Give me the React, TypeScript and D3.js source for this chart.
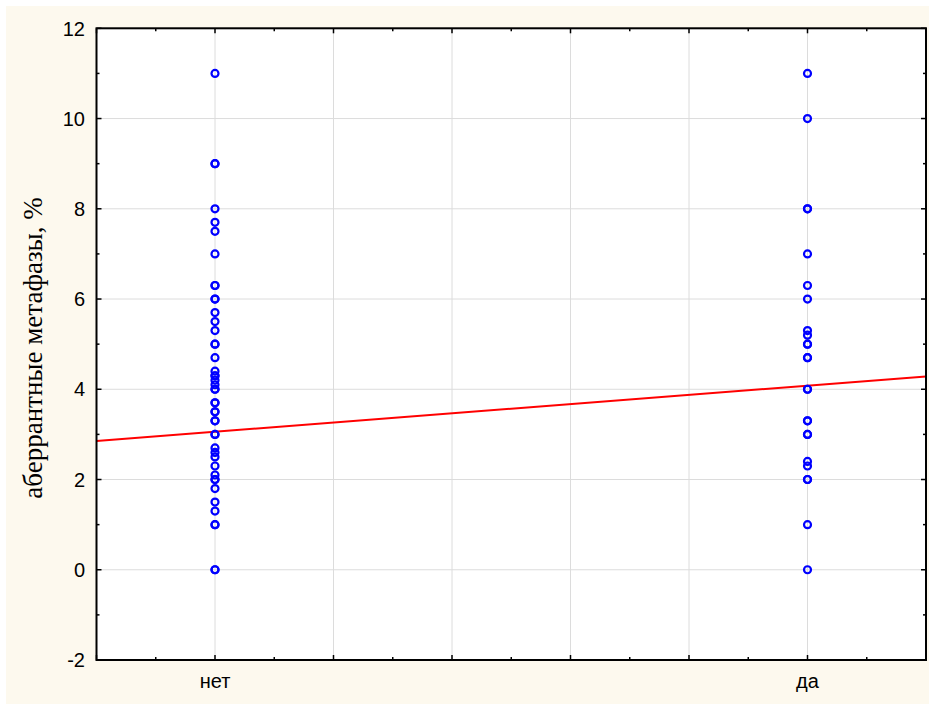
import React from "react";
import * as d3 from "d3";

const categories = ["нет", "да"];
const netValues = [11, 9, 9, 8, 7.7, 7.5, 7, 6.3, 6.3, 6, 6, 5.7, 5.5, 5.3, 5, 5, 4.7, 4.4, 4.3, 4.3, 4.2, 4.1, 4, 4, 3.7, 3.7, 3.5, 3.5, 3.3, 3.3, 3, 3, 2.7, 2.6, 2.5, 2.3, 2.1, 2, 2, 1.8, 1.5, 1.3, 1, 1, 0, 0];
const daValues = [11, 10, 8, 8, 7, 6.3, 6, 5.3, 5.2, 5, 5, 4.7, 4.7, 4, 4, 3.3, 3.3, 3, 3, 2.4, 2.3, 2, 2, 1, 0];
const yTicks = [-2, 0, 2, 4, 6, 8, 10, 12];
const lineIntercept = 3.06;
const lineSlope = 1.02;
const yTitle = "аберрантные метафазы, %";

export default function App() {
  const W = 929, H = 704;
  const left = 96.5, right = 926, top = 28.3, bottom = 660;
  const x = d3.scaleLinear().domain([-0.2, 1.2]).range([left, right]);
  const y = d3.scaleLinear().domain([-2, 12]).range([bottom, top]);
  const xMajor = d3.range(-0.2, 1.2001, 0.2);
  const xMinor = d3.range(-0.1, 1.2, 0.2);
  const yMinor = d3.range(-1, 12, 2);
  const points = [
    ...netValues.map((v) => ({ c: 0, v })),
    ...daValues.map((v) => ({ c: 1, v })),
  ];
  const line = d3.line<number>().x((d) => x(d)).y((d) => y(lineIntercept + lineSlope * d));
  const font = "'Liberation Sans', Arial, sans-serif";
  return (
    <svg width={W} height={H} style={{ position: "absolute", left: 0, top: 0 }}>
      <rect x={0} y={0} width={W} height={H} fill="#ffffff" />
      <rect x={6} y={6} width={W - 6} height={H - 6} fill="#fdf9ee" />
      <rect x={left} y={top} width={right - left} height={bottom - top} fill="#ffffff" />
      {yTicks.map((t) => (
        <line key={"gy" + t} x1={left} x2={right} y1={y(t)} y2={y(t)} stroke="#dcdcdc" strokeWidth={1} />
      ))}
      {xMajor.map((t, i) => (
        <line key={"gx" + i} x1={x(t)} x2={x(t)} y1={top} y2={bottom} stroke="#dcdcdc" strokeWidth={1} />
      ))}
      <path d={line([-0.2, 1.2]) || ""} stroke="#ff0000" strokeWidth={2} fill="none" />
      {points.map((p, i) => (
        <circle key={i} cx={x(p.c)} cy={y(p.v)} r={3.5} fill="none" stroke="#0000ff" strokeWidth={2.2} />
      ))}
      {xMajor.map((t, i) => (
        <g key={"tx" + i}>
          <line x1={x(t)} x2={x(t)} y1={bottom} y2={bottom - 5} stroke="#000" strokeWidth={1.5} />
          <line x1={x(t)} x2={x(t)} y1={top} y2={top + 5} stroke="#000" strokeWidth={1.5} />
        </g>
      ))}
      {xMinor.map((t, i) => (
        <g key={"txm" + i}>
          <line x1={x(t)} x2={x(t)} y1={bottom} y2={bottom - 3} stroke="#000" strokeWidth={1.5} />
          <line x1={x(t)} x2={x(t)} y1={top} y2={top + 3} stroke="#000" strokeWidth={1.5} />
        </g>
      ))}
      {yTicks.map((t) => (
        <g key={"ty" + t}>
          <line x1={left} x2={left + 5} y1={y(t)} y2={y(t)} stroke="#000" strokeWidth={1.5} />
          <line x1={right} x2={right - 5} y1={y(t)} y2={y(t)} stroke="#000" strokeWidth={1.5} />
        </g>
      ))}
      {yMinor.map((t) => (
        <g key={"tym" + t}>
          <line x1={left} x2={left + 3} y1={y(t)} y2={y(t)} stroke="#000" strokeWidth={1.5} />
          <line x1={right} x2={right - 3} y1={y(t)} y2={y(t)} stroke="#000" strokeWidth={1.5} />
        </g>
      ))}
      <rect x={left} y={top} width={right - left} height={bottom - top} fill="none" stroke="#000" strokeWidth={2} />
      {yTicks.map((t) => (
        <text key={"ly" + t} x={85} y={y(t)} dy="0.36em" textAnchor="end" fontFamily={font} fontSize={20} fill="#000">
          {t}
        </text>
      ))}
      {categories.map((c, i) => (
        <text key={c} x={x(i)} y={688} textAnchor="middle" fontFamily={font} fontSize={20} fill="#000">
          {c}
        </text>
      ))}
      <text
        transform={`translate(42, 348) rotate(-90)`}
        textAnchor="middle"
        fontFamily="'Liberation Serif', 'Times New Roman', serif"
        fontSize={27}
        fill="#000"
      >
        {yTitle}
      </text>
    </svg>
  );
}
